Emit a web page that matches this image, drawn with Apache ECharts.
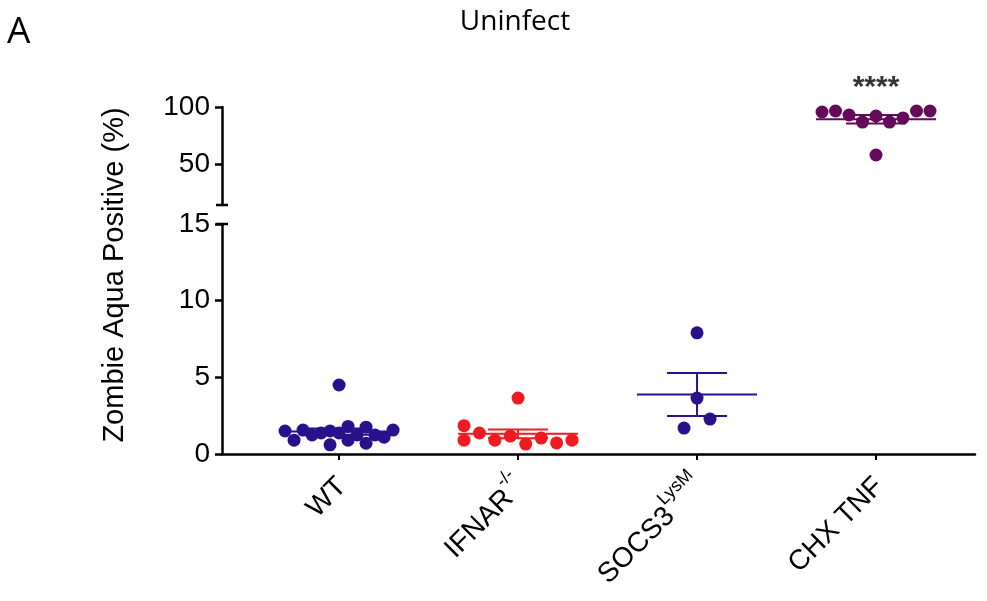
<!DOCTYPE html>
<html>
<head>
<meta charset="utf-8">
<script src="https://cdn.jsdelivr.net/npm/echarts@6/dist/echarts.min.js"></script>
<style>
  html, body { margin: 0; padding: 0; background: #fff; }
  #chart { width: 987px; height: 601px; }
</style>
</head>
<body>
<div id="chart"></div>
<script>
// Groups along the x axis; superscripts are appended to the names
const categories = ['WT', 'IFNAR', 'SOCS3', 'CHX TNF'];
const categorySup = ['', '-/-', 'LysM', ''];

// Zombie Aqua positive cells (%) per mouse, in plotting order
const wtValues = [4.5, 1.5, 0.9, 1.56, 1.24, 1.37, 1.5, 0.6, 1.37, 1.8, 0.9, 1.24, 1.75, 0.7, 1.24, 1.1, 1.56];
const ifnarValues = [3.65, 1.85, 0.9, 1.37, 0.9, 1.17, 0.65, 1.04, 0.72, 0.9];
const socs3Values = [7.9, 3.65, 1.69, 2.28];
const chxTnfValues = [95.6, 96.5, 93.0, 86.8, 92.1, 86.8, 90.4, 96.5, 96.5, 57.9];

const significance = ['', '', '', '****'];

// Broken y axis: lower and upper segments
const lowerRange = [0, 15];
const upperRange = [14, 100];
const lowerTicks = [0, 5, 10, 15];
const upperTicks = [50, 100];

const groupValues = [wtValues, ifnarValues, socs3Values, chxTnfValues];
const groupColors = ['#2A118C', '#EE1C22', '#2A118C', '#650A5A'];

const FONT = "'Liberation Sans', Arial, Helvetica, sans-serif";
const TITLE_FONT = "'Open Sans', 'Liberation Sans', sans-serif";
const DOT = 13;

const chart = echarts.init(document.getElementById('chart'), null, { renderer: 'canvas' });

const xRange = [-0.654, 3.553];
const axisLineStyle = { color: '#000', width: 2.5 };

const baseOption = {
  animation: false,
  backgroundColor: '#fff',
  title: {
    text: 'Uninfect',
    left: 510,
    top: 3,
    textAlign: 'center',
    textStyle: { fontFamily: TITLE_FONT, fontSize: 28, fontWeight: 'normal', color: '#000' }
  },
  graphic: [
    {
      type: 'text', x: 7, y: 14,
      style: { text: 'A', fontFamily: TITLE_FONT, fontSize: 37, fill: '#000', verticalAlign: 'top' }
    },
    {
      type: 'text', x: 115, y: 275, rotation: Math.PI / 2,
      style: {
        text: 'Zombie Aqua Positive (%)', fontFamily: FONT, fontSize: 29,
        fill: '#000', align: 'center', verticalAlign: 'middle'
      }
    }
  ],
  grid: [
    { left: 222, right: 12, top: 107, height: 98 },
    { left: 222, right: 12, top: 224, height: 230 }
  ],
  xAxis: [
    {
      gridIndex: 0, type: 'value', min: xRange[0], max: xRange[1], show: false
    },
    {
      gridIndex: 1, type: 'value', min: xRange[0], max: xRange[1],
      splitLine: { show: false },
      axisLine: { onZero: false, lineStyle: axisLineStyle },
      axisTick: { customValues: [0, 1, 2, 3], length: 6, lineStyle: { color: '#000', width: 2 } },
      axisLabel: {
        customValues: [0, 1, 2, 3],
        rotate: 45,
        margin: 25,
        formatter: function (v) {
          const i = Math.round(v);
          return categorySup[i]
            ? '{b|' + categories[i] + '}{s|' + categorySup[i] + '}'
            : '{b|' + categories[i] + '}';
        },
        rich: {
          b: { fontFamily: FONT, fontSize: 28, color: '#000', verticalAlign: 'bottom', lineHeight: 37 },
          s: { fontFamily: FONT, fontSize: 18, color: '#000', verticalAlign: 'top', lineHeight: 37 }
        }
      }
    }
  ],
  yAxis: [
    {
      gridIndex: 0, type: 'value', min: upperRange[0], max: upperRange[1],
      splitLine: { show: false },
      axisLine: { onZero: false, lineStyle: axisLineStyle, symbol: ['rect', 'none'], symbolSize: [12, 2.5] },
      axisTick: { customValues: upperTicks, length: 7, lineStyle: { color: '#000', width: 2.5 } },
      axisLabel: { customValues: upperTicks, margin: 12, fontFamily: FONT, fontSize: 28, color: '#000' }
    },
    {
      gridIndex: 1, type: 'value', min: lowerRange[0], max: lowerRange[1],
      splitLine: { show: false },
      axisLine: { onZero: false, lineStyle: axisLineStyle, symbol: ['none', 'rect'], symbolSize: [12, 2.5] },
      axisTick: { customValues: lowerTicks, length: 7, lineStyle: { color: '#000', width: 2.5 } },
      axisLabel: { customValues: lowerTicks, margin: 12, fontFamily: FONT, fontSize: 28, color: '#000' }
    }
  ],
  series: []
};

chart.setOption(baseOption);

// Scatter-dot layout: values close together share a row; within a row the
// points run left to right in order, a point stacking under the previous one
// when they do not touch vertically. Columns spread evenly over a fixed width.
function dotOffsets(pys, dot) {
  const n = pys.length;
  const off = new Array(n).fill(0);
  const sorted = pys.map((_, i) => i).sort((a, b) => pys[a] - pys[b]);
  const rows = [];
  sorted.forEach((i, k) => {
    if (k > 0 && pys[i] - pys[sorted[k - 1]] < dot * 1.25) rows[rows.length - 1].push(i);
    else rows.push([i]);
  });
  rows.forEach(row => {
    row.sort((a, b) => a - b);
    const cols = [];
    row.forEach(i => {
      const last = cols[cols.length - 1];
      if (last && last.length === 1 && Math.abs(pys[i] - pys[last[0]]) >= dot) last.push(i);
      else cols.push([i]);
    });
    const step = cols.length > 1 ? Math.min(dot * 2, 108 / (cols.length - 1)) : 0;
    cols.forEach((col, c) => {
      col.forEach(i => { off[i] = (c - (cols.length - 1) / 2) * step; });
    });
  });
  return off;
}

function mean(a) { return a.reduce((s, v) => s + v, 0) / a.length; }
function sem(a) {
  const m = mean(a);
  const sd = Math.sqrt(a.reduce((s, v) => s + (v - m) * (v - m), 0) / (a.length - 1));
  return sd / Math.sqrt(a.length);
}

const series = [];
groupValues.forEach((vals, gi) => {
  const m = mean(vals);
  const grid = m > lowerRange[1] ? 0 : 1;
  const finder = { gridIndex: grid };
  const y0 = grid === 0 ? upperRange[0] : lowerRange[0];
  const pxPerX = chart.convertToPixel(finder, [1, y0])[0] - chart.convertToPixel(finder, [0, y0])[0];
  const pys = vals.map(v => chart.convertToPixel(finder, [gi, v])[1]);
  const offs = dotOffsets(pys, DOT);
  const color = groupColors[gi];

  // mean with SEM bars
  series.push({
    type: 'custom',
    xAxisIndex: grid, yAxisIndex: grid,
    z: 2,
    data: [[gi, m, sem(vals)]],
    renderItem: function (params, api) {
      const x = api.value(0), mm = api.value(1), s = api.value(2);
      const c = api.coord([x, mm]);
      const hi = api.coord([x, mm + s]);
      const lo = api.coord([x, mm - s]);
      const style = { stroke: color, lineWidth: 2 };
      return {
        type: 'group',
        children: [
          { type: 'line', shape: { x1: c[0] - 60, y1: c[1], x2: c[0] + 60, y2: c[1] }, style: style },
          { type: 'line', shape: { x1: hi[0], y1: hi[1], x2: lo[0], y2: lo[1] }, style: style },
          { type: 'line', shape: { x1: hi[0] - 30, y1: hi[1], x2: hi[0] + 30, y2: hi[1] }, style: style },
          { type: 'line', shape: { x1: lo[0] - 30, y1: lo[1], x2: lo[0] + 30, y2: lo[1] }, style: style }
        ]
      };
    }
  });

  // individual animals
  series.push({
    type: 'scatter',
    xAxisIndex: grid, yAxisIndex: grid,
    z: 3,
    symbolSize: DOT,
    clip: false,
    itemStyle: { color: color, opacity: 1 },
    data: vals.map((v, i) => [gi + offs[i] / pxPerX, v])
  });

  // significance marker above the group
  if (significance[gi]) {
    series.push({
      type: 'scatter',
      xAxisIndex: grid, yAxisIndex: grid,
      symbolSize: 0,
      clip: false,
      silent: true,
      data: [[gi, Math.max.apply(null, vals)]],
      label: {
        show: true, position: 'top', distance: 8,
        formatter: significance[gi],
        fontFamily: FONT, fontSize: 30, fontWeight: 'bold', color: '#000'
      }
    });
  }
});

chart.setOption({ series: series });
</script>
</body>
</html>
